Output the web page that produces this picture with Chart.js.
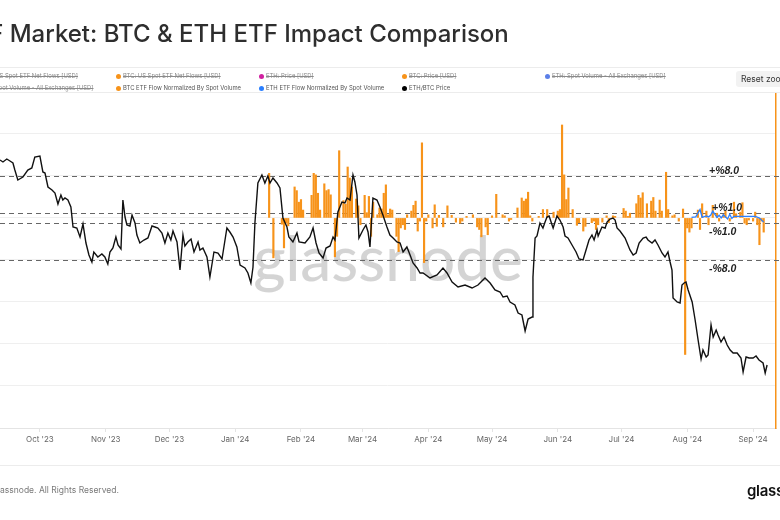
<!DOCTYPE html>
<html>
<head>
<meta charset="utf-8">
<script src="https://cdn.jsdelivr.net/npm/chart.js@4.4.1/dist/chart.umd.min.js"></script>
<style>
  html, body { margin: 0; padding: 0; background: #fff; }
  #wrap { position: relative; width: 780px; height: 520px; overflow: hidden; font-family: Inter, "Noto Sans", sans-serif; }
  #chart { position: absolute; left: 0; top: 0; }
  .rule { position: absolute; left: 0; width: 780px; height: 1px; background: #ececec; }
  #title { position: absolute; top: 19px; font-size: 24px; font-weight: 500; color: #2e2e2e; white-space: nowrap; line-height: 30px; }
  .lg { position: absolute; font-size: 5.9px; color: #555; white-space: nowrap; line-height: 8px; }
  .lg i { position: absolute; left: -7px; top: 1.5px; width: 5px; height: 5px; border-radius: 50%; }
  .lg.off span { text-decoration: line-through; color: #8a8a8a; }
  #reset { position: absolute; left: 736px; top: 71px; width: 60px; height: 16px; background: #f2f2f2; border-radius: 3px; font-size: 8.5px; color: #333; line-height: 16px; padding-left: 5px; box-sizing: border-box; }
  #footer { position: absolute; top: 485px; font-size: 8.5px; color: #7a7a7a; white-space: nowrap; }
  #logo { position: absolute; left: 747px; top: 481px; font-size: 15px; font-weight: 600; color: #111; letter-spacing: -0.3px; }
</style>
</head>
<body>
<div id="wrap">
  <canvas id="chart" width="780" height="520"></canvas>
  <div id="title"><span id="titleCut">ETF </span>Market: BTC &amp; ETH ETF Impact Comparison</div>
  <div class="rule" style="top:67px"></div>
  <div class="rule" style="top:92px"></div>
  <div id="legend"></div>
  <div id="reset">Reset zoom</div>
  <div class="rule" style="top:465px"></div>
  <div id="footer"><span id="footCut">© 2024 Gl</span>assnode. All Rights Reserved.</div>
  <div id="logo">glassnode</div>
</div>
<script>
const ORANGE = '#f7931a';
const BLUE = '#2a7fff';

// x axis: day index counted from 1 Sep 2023
const monthDays = [30, 61, 91, 122, 153, 182, 213, 243, 274, 304, 335, 366];
const monthLabels = ["Oct '23", "Nov '23", "Dec '23", "Jan '24", "Feb '24", "Mar '24",
                     "Apr '24", "May '24", "Jun '24", "Jul '24", "Aug '24", "Sep '24"];

// BTC ETF flow normalized by spot volume (%)
const flowDays = [
  138, 140, 144, 145, 146, 147, 150, 151, 152, 153,
  154, 158, 159, 160, 161, 162, 164, 165, 166, 167,
  169, 170, 171, 173, 174, 175, 176, 177, 179, 180,
  181, 183, 184, 185, 186, 187, 189, 190, 191, 192,
  193, 194, 195, 196, 198, 199, 200, 201, 202, 203,
  205, 206, 207, 208, 209, 210, 211, 212, 213, 215,
  216, 217, 218, 220, 222, 224, 226, 228, 229, 231,
  234, 236, 237, 238, 240, 241, 243, 245, 248, 249,
  251, 252, 255, 257, 258, 259, 260, 261, 262, 265,
  267, 269, 272, 274, 275, 276, 277, 278, 279, 281,
  283, 284, 286, 287, 290, 291, 292, 293, 295, 297,
  298, 300, 301, 305, 306, 307, 308, 311, 312, 313,
  314, 316, 318, 319, 320, 322, 323, 325, 326, 328,
  329, 331, 333, 334, 335, 336, 337, 340, 341, 342,
  344, 345, 347, 349, 350, 352, 353, 355, 357, 358,
  360, 361, 362, 363, 364, 366, 367, 368, 369, 370, 371
];
const btcFlowNorm = [
  8.5, -7.6, -1.2, -5.7, -1.0, -1.5, 5.9, 5.2, 3.0, 3.5,
  1.5, 4.3, 8.5, 8.2, 4.7, 1.5, 6.5, 5.2, 5.4, 4.4,
  -7.4, -3.5, 12.8, 3.3, 2.6, 9.7, 7.6, 5.9, 3.6, 2.3,
  -1.3, 4.3, 1.0, 4.1, -3.5, 3.0, 0.6, 1.9, 1.7, 4.7,
  6.3, 0.6, 1.7, 1.5, -3.5, -6.4, -1.9, -1.3, -2.2, 0.6,
  1.3, 2.4, 3.2, -2.5, -0.6, 14.3, -8.5, -0.6, 0.6, -1.9,
  2.5, -1.6, 0.5, -1.7, 2.3, 0.5, -0.8, -1.0, -0.6, 0.3,
  0.6, -1.7, -2.2, -3.6, -1.7, -3.2, 0.4, 4.5, 0.6, 0.4,
  -0.6, -0.3, 1.9, 3.8, 3.2, 3.6, 4.9, 0.4, -0.6, 0.3,
  1.6, 1.6, 1.1, 1.3, 1.6, 17.7, 8.2, 3.5, 5.7, 1.6,
  -1.4, -0.9, -2.5, -1.6, -0.9, -0.6, -2.2, -1.3, -0.8, 0.4,
  -0.9, 0.4, 0.3, 1.8, 1.3, 0.3, 0.9, 2.7, 4.3, 3.8,
  4.8, 2.7, 3.2, 3.9, 1.3, 3.4, 1.3, 8.7, 1.6, 0.4,
  0.6, -0.6, 1.7, -26.0, -1.9, -2.7, -1.9, 1.5, -2.2, 2.7,
  1.3, -1.3, 2.4, 0.9, -0.6, 0.6, 1.3, -0.6, 3.0, 0.8,
  1.1, 2.9, -1.0, -1.3, -0.4, -0.6, 1.1, -1.3, -5.1, -0.6, -2.7
];

// ETH ETF flow normalized by spot volume (%)
const ethFlowDays = [337, 339, 341, 342, 344, 345, 346, 347, 349, 350, 351, 352,
                     354, 355, 356, 357, 359, 360, 362, 364, 365, 367, 369, 371];
const ethFlowNorm = [0.1, 0.2, 1.6, 0.1, 0.4, 0.2, 0.5, 1.3, 0.1, 0.5, 0.0, 0.6,
                     -0.2, 0.7, -0.1, 0.3, 0.3, 0.3, 0.3, 0.3, 0.3, 0.3, 0.0, -0.8];

// ETH/BTC price
const ethBtcDays = [
  11.2, 12.6, 14.4, 15.9, 17.3, 18.2, 19.6, 22.0, 24.3, 26.2,
  27.6, 30.0, 31.4, 32.4, 33.8, 35.7, 37.1, 38.5, 39.9, 40.8,
  41.8, 43.2, 44.6, 45.6, 47.4, 48.9, 50.3, 51.7, 53.1, 54.5,
  55.4, 57.3, 59.2, 60.6, 62.0, 63.0, 64.4, 65.8, 66.8, 68.2,
  69.1, 70.1, 71.0, 72.4, 73.4, 74.8, 75.7, 77.1, 79.0, 80.9,
  82.8, 84.2, 85.6, 87.5, 88.9, 90.3, 91.7, 92.7, 94.6, 96.0,
  97.4, 98.3, 99.7, 101.2, 102.6, 104.5, 105.4, 106.8, 108.7, 110.1,
  112.0, 113.9, 115.8, 118.1, 119.5, 121.0, 122.8, 124.3, 126.6, 128.0,
  129.4, 130.4, 131.3, 132.7, 134.6, 136.0, 137.4, 138.4, 139.8, 141.7,
  143.1, 144.5, 146.4, 147.3, 149.2, 151.1, 152.1, 154.9, 157.2, 158.7,
  160.1, 161.5, 163.4, 164.8, 166.7, 168.1, 169.0, 170.4, 172.3, 173.7,
  174.7, 176.1, 177.5, 178.4, 179.4, 180.3, 182.2, 183.6, 184.6, 185.5,
  186.9, 188.8, 190.2, 191.6, 193.5, 194.9, 196.4, 198.2, 199.7, 201.1,
  202.9, 204.4, 205.8, 207.7, 209.1, 210.5, 213.8, 217.1, 219.9, 221.8,
  224.2, 227.0, 230.3, 233.6, 236.4, 239.7, 242.1, 244.4, 246.8, 248.2,
  250.1, 251.5, 253.8, 255.3, 257.1, 258.6, 260.0, 261.9, 262.3, 263.3,
  264.2, 265.6, 267.0, 268.0, 268.9, 269.9, 271.3, 271.8, 272.7, 273.6,
  275.0, 276.5, 277.4, 278.8, 280.7, 282.6, 284.0, 285.9, 287.3, 288.7,
  290.1, 291.1, 292.5, 293.0, 294.8, 296.3, 297.2, 298.6, 300.0, 301.0,
  301.9, 303.3, 305.7, 308.0, 309.5, 310.9, 312.3, 314.2, 315.6, 316.5,
  318.4, 319.8, 321.2, 323.1, 324.5, 325.9, 326.9, 327.8, 328.3, 330.2,
  331.6, 332.5, 333.5, 334.4, 335.4, 337.3, 338.7, 340.1, 341.5, 342.4,
  343.9, 344.8, 346.2, 347.2, 348.6, 349.5, 350.9, 352.3, 353.8, 355.2,
  356.6, 358.5, 360.3, 361.3, 362.7, 364.1, 366.0, 367.4, 368.8, 370.7,
  371.7, 372.6
];
const ethBtcPrice = [
  0.0634, 0.0632, 0.0635, 0.0633, 0.0631, 0.0624, 0.0614, 0.0617, 0.0624, 0.0626,
  0.0637, 0.0638, 0.0622, 0.0621, 0.0607, 0.0604, 0.0601, 0.0590, 0.0599, 0.0594,
  0.0596, 0.0594, 0.0587, 0.0567, 0.0566, 0.0557, 0.0570, 0.0551, 0.0539, 0.0532,
  0.0542, 0.0537, 0.0540, 0.0537, 0.0530, 0.0542, 0.0546, 0.0557, 0.0549, 0.0545,
  0.0594, 0.0577, 0.0569, 0.0568, 0.0579, 0.0571, 0.0559, 0.0551, 0.0554, 0.0556,
  0.0568, 0.0567, 0.0566, 0.0561, 0.0551, 0.0561, 0.0554, 0.0563, 0.0552, 0.0524,
  0.0559, 0.0548, 0.0552, 0.0555, 0.0542, 0.0552, 0.0544, 0.0546, 0.0537, 0.0517,
  0.0542, 0.0541, 0.0535, 0.0566, 0.0562, 0.0557, 0.0547, 0.0529, 0.0526, 0.0521,
  0.0511, 0.0527, 0.0571, 0.0611, 0.0619, 0.0611, 0.0618, 0.0611, 0.0616, 0.0611,
  0.0606, 0.0576, 0.0567, 0.0557, 0.0552, 0.0561, 0.0552, 0.0551, 0.0557, 0.0566,
  0.0551, 0.0541, 0.0536, 0.0546, 0.0548, 0.0557, 0.0554, 0.0582, 0.0592, 0.0591,
  0.0596, 0.0594, 0.0619, 0.0612, 0.0599, 0.0556, 0.0564, 0.0569, 0.0562, 0.0547,
  0.0596, 0.0594, 0.0587, 0.0579, 0.0567, 0.0559, 0.0556, 0.0552, 0.0551, 0.0542,
  0.0547, 0.0539, 0.0531, 0.0526, 0.0521, 0.0521, 0.0516, 0.0519, 0.0526, 0.0521,
  0.0512, 0.0507, 0.0509, 0.0506, 0.0509, 0.0516, 0.0511, 0.0504, 0.0502, 0.0497,
  0.0498, 0.0492, 0.0489, 0.0481, 0.0479, 0.0463, 0.0475, 0.0477, 0.0517, 0.0556,
  0.0558, 0.0571, 0.0566, 0.0572, 0.0577, 0.0578, 0.0569, 0.0566, 0.0572, 0.0578,
  0.0574, 0.0567, 0.0558, 0.0556, 0.0549, 0.0542, 0.0535, 0.0534, 0.0544, 0.0554,
  0.0559, 0.0554, 0.0564, 0.0558, 0.0567, 0.0566, 0.0572, 0.0575, 0.0576, 0.0574,
  0.0566, 0.0563, 0.0556, 0.0544, 0.0539, 0.0541, 0.0551, 0.0556, 0.0557, 0.0554,
  0.0551, 0.0554, 0.0549, 0.0541, 0.0537, 0.0542, 0.0532, 0.0524, 0.0496, 0.0492,
  0.0491, 0.0509, 0.0511, 0.0512, 0.0504, 0.0492, 0.0474, 0.0454, 0.0435, 0.0444,
  0.0437, 0.0439, 0.0469, 0.0457, 0.0464, 0.0459, 0.0452, 0.0457, 0.0449, 0.0444,
  0.0441, 0.0441, 0.0436, 0.0422, 0.0437, 0.0436, 0.0436, 0.0438, 0.0434, 0.0431,
  0.0421, 0.0429
];

// dashed reference levels on the flow axis
const refLevels = [8, 1, -1, -8];
const refLabels = ['+%8.0', '+%1.0', '-%1.0', '-%8.0'];
const flowGrid = [-40, -32, -24, -16, -8, 0, 8, 16];

// legend entries (crossed out = hidden series)
const legendLabels = [
  'ETH: US Spot ETF Net Flows [USD]', 'BTC: US Spot ETF Net Flows [USD]', 'ETH: Price [USD]',
  'BTC: Price [USD]', 'ETH: Spot Volume - All Exchanges [USD]',
  'BTC: Spot Volume - All Exchanges [USD]', 'BTC ETF Flow Normalized By Spot Volume',
  'ETH ETF Flow Normalized By Spot Volume', 'ETH/BTC Price'
];
const legendColors = ['#5b7fe8', ORANGE, '#d020a0', ORANGE, '#5b7fe8', ORANGE, ORANGE, BLUE, '#000'];
const legendHidden = [true, true, true, true, true, true, false, false, false];

// title / footer are cropped on the left like the screenshot
const titleEl = document.getElementById('title');
titleEl.style.left = (10 - document.getElementById('titleCut').offsetWidth) + 'px';
const footEl = document.getElementById('footer');
footEl.style.left = (0 - document.getElementById('footCut').offsetWidth) + 'px';

const legendEl = document.getElementById('legend');
legendLabels.forEach((label, i) => {
    const col = i < 5 ? i : i - 5;
    const row = i < 5 ? 0 : 1;
    const div = document.createElement('div');
    div.className = 'lg' + (legendHidden[i] ? ' off' : '');
    div.style.left = (-20 + col * 143) + 'px';
    div.style.top = (72 + row * 12) + 'px';
    div.innerHTML = `<i style="background:${legendColors[i]}"></i><span>${label}</span>`;
    legendEl.appendChild(div);
});

const refLines = {
    id: 'refLines',
    beforeDatasetsDraw(chart) {
        const { ctx, chartArea, scales } = chart;
        ctx.save();
        // watermark
        ctx.font = '500 62px Lato';
        ctx.fillStyle = 'rgba(0,0,0,0.17)';
        ctx.textAlign = 'center';
        ctx.textBaseline = 'middle';
        ctx.fillText('glassnode', chartArea.left + chartArea.width * 0.5, 261);
        // dashed levels
        ctx.strokeStyle = '#666';
        ctx.lineWidth = 1;
        ctx.setLineDash([5, 4]);
        refLevels.forEach(v => {
            const y = Math.round(scales.yFlow.getPixelForValue(v)) + 0.5;
            ctx.beginPath();
            ctx.moveTo(chartArea.left, y);
            ctx.lineTo(chart.width, y);
            ctx.stroke();
        });
        ctx.restore();
    },
    afterDatasetsDraw(chart) {
        const { ctx, chartArea, scales } = chart;
        ctx.save();
        ctx.font = 'italic bold 10.5px "Liberation Sans"';
        ctx.fillStyle = '#222';
        ctx.textBaseline = 'middle';
        refLevels.forEach((v, i) => {
            const y = scales.yFlow.getPixelForValue(v);
            const x = chartArea.right - (v === 1 ? 64 : 67);
            ctx.fillText(refLabels[i], x, v > 0 ? y - 5 : y + 9);
        });
        ctx.restore();
    }
};

const ctx = document.getElementById('chart').getContext('2d');
new Chart(ctx, {
    data: {
        datasets: [
            {
                type: 'line',
                label: 'ETH/BTC Price',
                data: ethBtcDays.map((d, i) => ({ x: d, y: ethBtcPrice[i] })),
                borderColor: '#111',
                borderWidth: 1.4,
                pointRadius: 0,
                tension: 0,
                yAxisID: 'yPrice',
                order: 1
            },
            {
                type: 'line',
                label: 'ETH ETF Flow Normalized By Spot Volume',
                data: ethFlowDays.map((d, i) => ({ x: d, y: ethFlowNorm[i] })),
                borderColor: BLUE,
                borderWidth: 1.3,
                pointRadius: 0,
                tension: 0,
                yAxisID: 'yFlow',
                order: 2
            },
            {
                type: 'bar',
                label: 'BTC ETF Flow Normalized By Spot Volume',
                data: flowDays.map((d, i) => ({ x: d, y: btcFlowNorm[i] })),
                backgroundColor: ORANGE,
                barThickness: 1.5,
                yAxisID: 'yFlow',
                order: 3
            }
        ]
    },
    options: {
        responsive: false,
        animation: false,
        layout: { padding: { top: 94, bottom: 68, left: 0, right: 0 } },
        plugins: { legend: { display: false }, tooltip: { enabled: false } },
        scales: {
            x: {
                type: 'linear',
                min: 11.2,
                max: 376.8,
                offset: false,
                afterBuildTicks: s => { s.ticks = monthDays.map(v => ({ value: v })); },
                afterFit: s => { s.height = 24; },
                ticks: {
                    autoSkip: false,
                    maxRotation: 0,
                    color: '#666',
                    padding: 3,
                    font: { size: 8, family: 'Inter' },
                    callback: v => monthLabels[monthDays.indexOf(v)]
                },
                grid: { drawOnChartArea: false, tickLength: 4, color: '#e4e4e4', offset: false },
                border: { color: '#e4e4e4' }
            },
            yFlow: {
                position: 'right',
                min: -40,
                max: 23.6,
                afterBuildTicks: s => { s.ticks = flowGrid.map(v => ({ value: v })); },
                afterFit: s => { s.width = 4; },
                ticks: { display: false },
                grid: { color: '#efefef', drawTicks: false },
                border: { display: true, color: ORANGE, width: 1.5 }
            },
            yPrice: {
                position: 'left',
                display: false,
                min: 0.0366,
                max: 0.07
            }
        }
    },
    plugins: [refLines]
});
</script>
</body>
</html>
